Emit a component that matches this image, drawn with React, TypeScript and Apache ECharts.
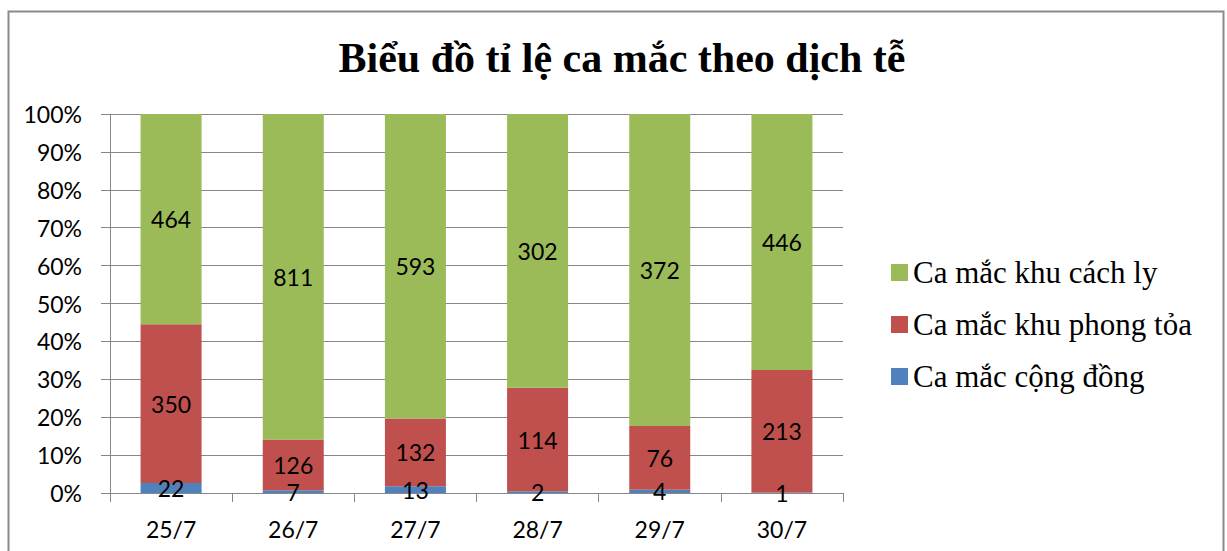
import React, { useEffect, useRef } from "react";
import * as echarts from "echarts";

const categories = ["25/7", "26/7", "27/7", "28/7", "29/7", "30/7"];
const congDong = [22, 7, 13, 2, 4, 1];
const phongToa = [350, 126, 132, 114, 76, 213];
const cachLy = [464, 811, 593, 302, 372, 446];
const seriesNames = ["Ca mắc cộng đồng", "Ca mắc khu phong tỏa", "Ca mắc khu cách ly"];
const seriesColors = ["#4F81BD", "#C0504D", "#9BBB59"];

export default function App() {
  const ref = useRef<HTMLDivElement>(null);
  useEffect(() => {
    if (!ref.current) return;
    const chart = echarts.init(ref.current, null, { renderer: "svg" });
    const totals = categories.map((_, i) => congDong[i] + phongToa[i] + cachLy[i]);
    const raw = [congDong, phongToa, cachLy];
    const font = "Lato, 'Open Sans', sans-serif";
    const serif = "'Liberation Serif', 'Times New Roman', serif";
    chart.setOption({
      animation: false,
      backgroundColor: "#fff",
      title: {
        text: "Biểu đồ tỉ lệ ca mắc theo dịch tễ",
        left: 617,
        textAlign: "center",
        top: 32,
        textStyle: {
          fontFamily: serif,
          fontWeight: "bold",
          fontSize: 42,
          color: "#000",
        },
      },
      graphic: [
        {
          type: "rect",
          shape: { x: 8.5, y: 11.5, width: 1215, height: 580 },
          style: { fill: "none", stroke: "#8a8a8a", lineWidth: 2 },
          silent: true,
        },
      ],
      legend: {
        orient: "vertical",
        left: 886,
        top: 252,
        itemWidth: 17,
        itemHeight: 17,
        itemGap: 21,
        itemTextGap: 6,
        icon: "rect",
        data: [seriesNames[2], seriesNames[1], seriesNames[0]],
        textStyle: {
          fontFamily: serif,
          fontSize: 31,
          lineHeight: 31,
          color: "#000",
        },
      },
      grid: { left: 110, right: 384, top: 114, bottom: 58 },
      xAxis: {
        type: "category",
        data: categories,
        axisLine: { lineStyle: { color: "#878787", width: 1 } },
        axisTick: { show: true, length: 9, alignWithLabel: false, lineStyle: { color: "#878787" } },
        axisLabel: { fontFamily: font, fontSize: 23, color: "#000", margin: 24 },
      },
      yAxis: {
        type: "value",
        min: 0,
        max: 1,
        interval: 0.1,
        axisLine: { show: true, lineStyle: { color: "#878787", width: 1 } },
        axisTick: { show: true, length: 9, lineStyle: { color: "#878787" } },
        splitLine: { lineStyle: { color: "#878787", width: 1 } },
        axisLabel: {
          fontFamily: font,
          fontSize: 23,
          color: "#000",
          margin: 28,
          formatter: (v: number) => Math.round(v * 100) + "%",
        },
      },
      series: raw.map((arr, s) => ({
        name: seriesNames[s],
        type: "bar",
        stack: "total",
        barWidth: 61,
        itemStyle: { color: seriesColors[s] },
        label: {
          show: true,
          position: "inside",
          fontFamily: font,
          fontSize: 23,
          color: "#000",
          formatter: (p: any) => String(arr[p.dataIndex]),
        },
        data: arr.map((v, i) => v / totals[i]),
      })),
    });
    return () => chart.dispose();
  }, []);
  return (
    <div
      ref={ref}
      style={{ position: "absolute", left: 0, top: 0, width: 1227, height: 551 }}
    />
  );
}
